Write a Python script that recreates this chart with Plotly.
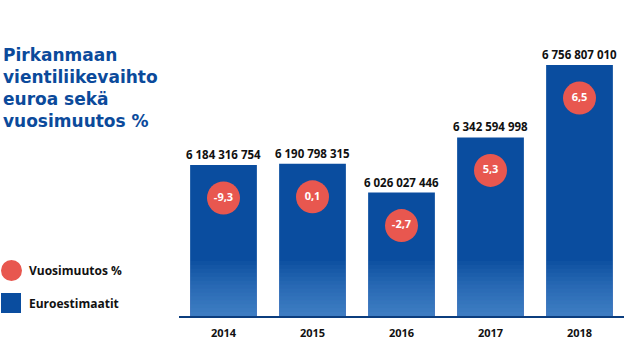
import plotly.graph_objects as go

years = ["2014", "2015", "2016", "2017", "2018"]
euro_values = [6184316754, 6190798315, 6026027446, 6342594998, 6756807010]
change_pct = ["-9,3", "0,1", "-2,7", "5,3", "6,5"]

title_lines = ["Pirkanmaan", "vientiliikevaihto", "euroa sekä", "vuosimuutos %"]
legend_labels = ["Vuosimuutos %", "Euroestimaatit"]

W, H = 624, 364
L, R, T, B = 179, 0, 10, 48
plot_w = W - L - R
plot_h = H - T - B

y0 = 5.319e9
px_per_unit = 174.5 / 1e9
y1 = y0 + plot_h / px_per_unit

BLUE = "#0A4D9F"
RED = "#E8574F"
TITLE_BLUE = "#0B4A9B"
FONT = "Open Sans"
TITLE_FONT = "DejaVu Sans"

labels = [f"{v:,}".replace(",", " ") for v in euro_values]

fig = go.Figure()

# main bars
fig.add_trace(go.Bar(
    x=years, y=[v - y0 for v in euro_values], base=y0,
    marker=dict(color=BLUE, line=dict(width=0)),
    text=labels, textposition="outside", constraintext="none",
    textfont=dict(family=FONT, size=11.5, color="#111111", weight=700),
    cliponaxis=False, showlegend=False, hoverinfo="skip",
))

# light gradient overlay near bar bottoms
steps = 14
grad_h = 55 / px_per_unit
for k in range(steps):
    h = grad_h * (k + 1) / steps
    fig.add_trace(go.Bar(
        x=years, y=[h] * len(years), base=y0,
        marker=dict(color="rgba(110,170,230,0.05)", line=dict(width=0)),
        showlegend=False, hoverinfo="skip",
    ))

# circles with yearly change
offset = 33 / px_per_unit
fig.add_trace(go.Scatter(
    x=years, y=[v - offset for v in euro_values], mode="markers+text",
    marker=dict(size=33, color=RED, line=dict(width=0)),
    text=change_pct, textposition="middle center",
    textfont=dict(family=FONT, size=11, color="white", weight=700),
    showlegend=False, hoverinfo="skip",
))

def px_x(px):
    return (px - L) / plot_w

def px_y(py):
    return (H - B - py) / plot_h

annotations = [dict(
    x=px_x(1), y=px_y(43), xref="paper", yref="paper",
    xanchor="left", yanchor="top", align="left", showarrow=False,
    text="<br>".join(title_lines),
    font=dict(family=TITLE_FONT, size=17, color=TITLE_BLUE, weight=700),
)]

legend_y = [270, 303]
for lab, ly in zip(legend_labels, legend_y):
    annotations.append(dict(
        x=px_x(27), y=px_y(ly), xref="paper", yref="paper",
        xanchor="left", yanchor="middle", showarrow=False, text=lab,
        font=dict(family=FONT, size=12, color="#111111", weight=700),
    ))

shapes = [
    dict(type="circle", xref="paper", yref="paper",
         x0=px_x(1), x1=px_x(22), y0=px_y(260), y1=px_y(281),
         fillcolor=RED, line=dict(width=0)),
    dict(type="rect", xref="paper", yref="paper",
         x0=px_x(1), x1=px_x(21), y0=px_y(293), y1=px_y(313),
         fillcolor=BLUE, line=dict(width=0)),
]

fig.update_layout(
    width=W, height=H,
    margin=dict(l=L, r=R, t=T, b=B),
    paper_bgcolor="white", plot_bgcolor="white",
    barmode="overlay", bargap=0.25,
    annotations=annotations, shapes=shapes,
    xaxis=dict(
        showline=True, linecolor="#0B3D7E", linewidth=2,
        showgrid=False, ticks="", zeroline=False, ticklabelstandoff=6,
        tickfont=dict(family=FONT, size=11, color="#111111", weight=700),
        range=[-0.5, 4.5], fixedrange=True,
    ),
    yaxis=dict(visible=False, range=[y0, y1], fixedrange=True),
    showlegend=False,
)

fig.write_html("out.html", config={"displayModeBar": False},
               post_script="document.body.style.margin='0';")
